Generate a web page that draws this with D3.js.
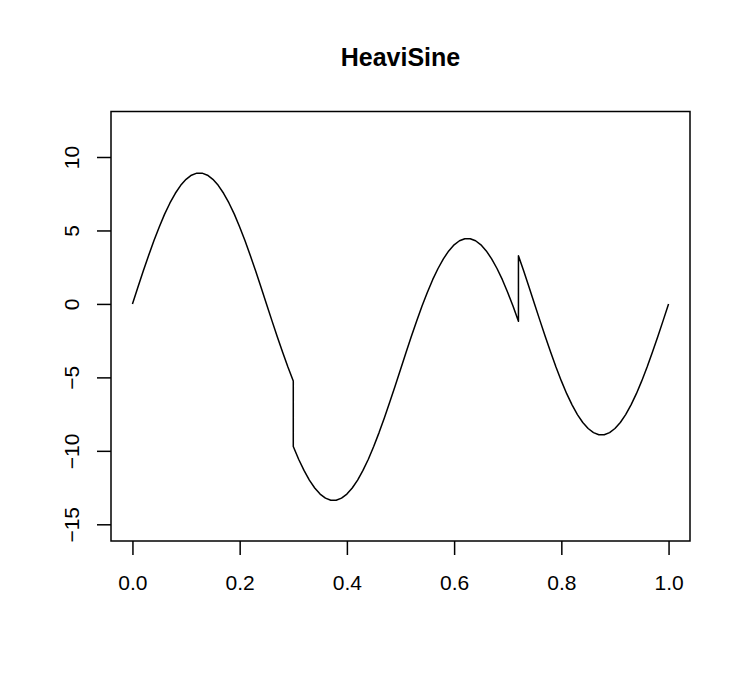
<!DOCTYPE html>
<html>
<head>
<meta charset="utf-8">
<script src="https://cdn.jsdelivr.net/npm/d3@7"></script>
<style>
  body { margin: 0; background: #fff; }
  text { font-family: "Liberation Sans", Arial, Helvetica, sans-serif; }
</style>
</head>
<body>
<div class="chart"></div>
<script>
// HeaviSine test signal

var tValues = [
  0.00, 0.01, 0.02, 0.03, 0.04, 0.05, 0.06, 0.07, 0.08, 0.09,
  0.10, 0.11, 0.12, 0.13, 0.14, 0.15, 0.16, 0.17, 0.18, 0.19,
  0.20, 0.21, 0.22, 0.23, 0.24, 0.25, 0.26, 0.27, 0.28, 0.29,
  0.30, 0.30, 0.31, 0.32, 0.33, 0.34, 0.35, 0.36, 0.37, 0.38, 0.39,
  0.40, 0.41, 0.42, 0.43, 0.44, 0.45, 0.46, 0.47, 0.48, 0.49,
  0.50, 0.51, 0.52, 0.53, 0.54, 0.55, 0.56, 0.57, 0.58, 0.59,
  0.60, 0.61, 0.62, 0.63, 0.64, 0.65, 0.66, 0.67, 0.68, 0.69,
  0.70, 0.71, 0.72, 0.72, 0.73, 0.74, 0.75, 0.76, 0.77, 0.78, 0.79,
  0.80, 0.81, 0.82, 0.83, 0.84, 0.85, 0.86, 0.87, 0.88, 0.89,
  0.90, 0.91, 0.92, 0.93, 0.94, 0.95, 0.96, 0.97, 0.98, 0.99,
  1.00
];

var signalValues = [
  0.00, 1.12, 2.22, 3.28, 4.30, 5.24, 6.11, 6.87, 7.53, 8.07,
  8.48, 8.76, 8.90, 8.90, 8.76, 8.48, 8.07, 7.53, 6.87, 6.11,
  5.24, 4.30, 3.28, 2.22, 1.12, 0.00, -1.12, -2.22, -3.28, -4.30,
  -5.24, -9.70, -10.57, -11.33, -11.99, -12.53, -12.94, -13.22, -13.36, -13.36, -13.22,
  -12.94, -12.53, -11.99, -11.33, -10.57, -9.70, -8.76, -7.74, -6.68, -5.58,
  -4.46, -3.34, -2.24, -1.18, -0.16, 0.78, 1.65, 2.41, 3.07, 3.61,
  4.02, 4.30, 4.44, 4.44, 4.30, 4.02, 3.61, 3.07, 2.41, 1.65,
  0.78, -0.16, -1.18, 3.28, 2.22, 1.12, 0.00, -1.12, -2.22, -3.28, -4.30,
  -5.24, -6.11, -6.87, -7.53, -8.07, -8.48, -8.76, -8.90, -8.90, -8.76,
  -8.48, -8.07, -7.53, -6.87, -6.11, -5.24, -4.30, -3.28, -2.22, -1.12,
  0.00
];

var xTicks = [0, 0.2, 0.4, 0.6, 0.8, 1.0];
var xTickLabels = ["0.0", "0.2", "0.4", "0.6", "0.8", "1.0"];
var yTicks = [-15, -10, -5, 0, 5, 10];
var yTickLabels = ["\u221215", "\u221210", "\u22125", "0", "5", "10"];

var svgWidth = 747;
var svgHeight = 680;

// plot region (the box)
var box = { left: 111, right: 690, top: 111.5, bottom: 541 };

var svg = d3
  .select(".chart")
  .append("svg")
  .attr("width", svgWidth)
  .attr("height", svgHeight);

var data = tValues.map(function(t, i) {
  return { t: t, y: signalValues[i] };
});

// R style scales: 4% padding on x
var xScale = d3.scaleLinear()
  .domain([-0.04, 1.04])
  .range([box.left, box.right]);

var yScale = d3.scaleLinear()
  .domain([-15, 10])
  .range([524.3, 157]);

// the curve
var line = d3.line()
  .x(d => xScale(d.t))
  .y(d => yScale(d.y));

svg.append("path")
  .datum(data)
  .attr("d", line)
  .attr("fill", "none")
  .attr("stroke", "#000")
  .attr("stroke-width", 1.5)
  .attr("stroke-linejoin", "round");

// box around plot
svg.append("rect")
  .attr("x", box.left)
  .attr("y", box.top)
  .attr("width", box.right - box.left)
  .attr("height", box.bottom - box.top)
  .attr("fill", "none")
  .attr("stroke", "#000")
  .attr("stroke-width", 1.5);

// x axis
var bottomAxis = d3.axisBottom(xScale)
  .tickValues(xTicks)
  .tickFormat((d, i) => xTickLabels[i])
  .tickSize(14)
  .tickPadding(20);

var xAxis = svg.append("g")
  .attr("transform", `translate(0, ${box.bottom})`)
  .call(bottomAxis);

xAxis.select(".domain").remove();
xAxis.selectAll(".tick line").attr("stroke-width", 1.5);
xAxis.selectAll(".tick text")
  .attr("fill", "#000")
  .style("font-size", "21px");

// y axis, labels rotated like R's las=0
var leftAxis = d3.axisLeft(yScale)
  .tickValues(yTicks)
  .tickFormat((d, i) => yTickLabels[i])
  .tickSize(14);

var yAxis = svg.append("g")
  .attr("transform", `translate(${box.left}, 0)`)
  .call(leftAxis);

yAxis.select(".domain").remove();
yAxis.selectAll(".tick line").attr("stroke-width", 1.5);
yAxis.selectAll(".tick text")
  .attr("x", 0)
  .attr("y", 0)
  .attr("dy", null)
  .attr("text-anchor", "middle")
  .attr("transform", "translate(-32, 0) rotate(-90)")
  .attr("fill", "#000")
  .style("font-size", "21px");

// title
svg.append("text")
  .attr("x", (box.left + box.right) / 2)
  .attr("y", 66)
  .attr("text-anchor", "middle")
  .style("font-size", "25px")
  .style("font-weight", "bold")
  .text("HeaviSine");
</script>
</body>
</html>
